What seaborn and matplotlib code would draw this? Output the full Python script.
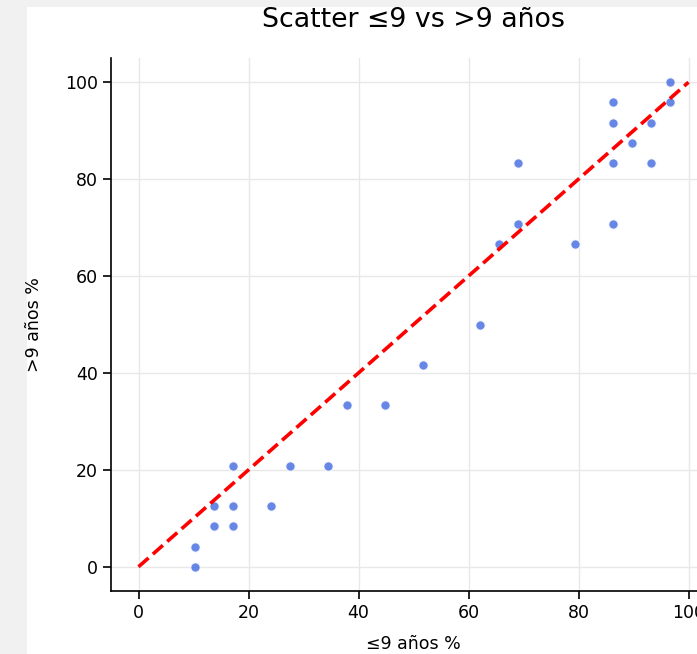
import matplotlib
matplotlib.use("Agg")
import matplotlib.pyplot as plt
import seaborn as sns
import pandas as pd
from matplotlib.patches import Rectangle

# Data (percentages)
le9_pct = [10.34, 10.34, 13.79, 13.79, 17.24, 17.24, 17.24, 24.14, 27.59, 34.48,
           37.93, 44.83, 51.72, 62.07, 65.52, 68.97, 68.97, 79.31, 86.21, 86.21,
           86.21, 86.21, 89.66, 93.10, 93.10, 96.55, 96.55]
gt9_pct = [0.00, 4.17, 12.50, 8.33, 20.83, 12.50, 8.33, 12.50, 20.83, 20.83,
           33.33, 33.33, 41.67, 50.00, 66.67, 70.83, 83.33, 66.67, 70.83, 83.33,
           91.67, 95.83, 87.50, 91.67, 83.33, 100.00, 95.83]
ref_line = [0, 100]

title = "Scatter ≤9 vs >9 años"
xlabel = "≤9 años %"
ylabel = ">9 años %"

df = pd.DataFrame({"le9": le9_pct, "gt9": gt9_pct})

sns.set_style("ticks", {"axes.grid": True, "grid.color": "#e8e8e8",
                        "axes.edgecolor": "black", "text.color": "black",
                        "axes.labelcolor": "black", "xtick.color": "black",
                        "ytick.color": "black"})
plt.rcParams["font.family"] = ["DejaVu Sans"]

W, H = 697, 654
fig = plt.figure(figsize=(W / 100, H / 100), dpi=100)
fig.patch.set_facecolor("#f1f1f1")
bg = Rectangle((27 / W, 0), 1 - 27 / W, 1 - 7 / H,
               transform=fig.transFigure, facecolor="white",
               edgecolor="none", zorder=-10)
fig.add_artist(bg)

ax = fig.add_axes([111 / W, (H - 591) / H, 605 / W, 533 / H])
ax.set_zorder(1)
ax.set_facecolor("white")

sns.scatterplot(data=df, x="le9", y="gt9", ax=ax, color="royalblue",
                alpha=0.8, s=45, edgecolor="white", linewidth=0.8, zorder=3)
sns.lineplot(x=ref_line, y=ref_line, ax=ax, color="red", linestyle="--",
             linewidth=2.6, zorder=4)

ax.set_xlim(-5, 105)
ax.set_ylim(-5, 105)
ax.set_xticks([0, 20, 40, 60, 80, 100])
ax.set_yticks([0, 20, 40, 60, 80, 100])
ax.tick_params(axis="both", labelsize=12.5, length=6, width=1.2,
               color="black", labelcolor="black")
for side in ["top", "right"]:
    ax.spines[side].set_visible(False)
for side in ["left", "bottom"]:
    ax.spines[side].set_linewidth(1.2)
    ax.spines[side].set_color("black")
ax.grid(True, color="#e8e8e8", linewidth=1)

ax.set_title(title, fontsize=19.3, pad=22, color="black")
ax.set_xlabel(xlabel, fontsize=12.5, color="black")
ax.set_ylabel(ylabel, fontsize=12.5, color="black")
ax.xaxis.set_label_coords(0.5, -0.082)
ax.yaxis.set_label_coords(-0.112, 0.5)

fig.savefig("out.png", dpi=100, facecolor=fig.get_facecolor())
